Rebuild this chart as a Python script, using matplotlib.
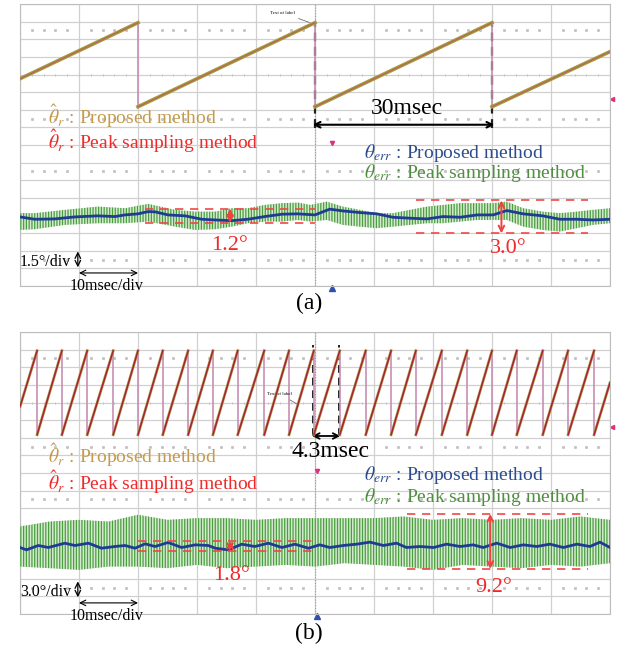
import numpy as np
import matplotlib
matplotlib.use("Agg")
import matplotlib.pyplot as plt

plt.rcParams['font.family'] = ['Liberation Serif', 'DejaVu Serif']
plt.rcParams['mathtext.fontset'] = 'stix'
plt.rcParams['hatch.linewidth'] = 0.9

# ---- values read off the two scope screens (time in msec, angles in deg) ----
# theta_r sawtooth: reset instants and the angle at the screen edges
peaks_a = [20.0, 50.0, 80.0]
theta_edges_a = [120, 236]
peaks_b = [2.9, 7.1, 11.4, 15.8, 20.0, 24.2, 28.5, 32.7, 36.9, 41.4, 45.6, 49.8,
           54.2, 58.6, 62.9, 67.1, 71.5, 75.8, 80.0, 84.2, 88.6, 92.9, 97.3]
theta_edges_b = [120, 223]

# (a) theta_err, proposed method (blue)
t_blue_a = [0.0, 2.5, 5.9, 9.3, 13.2, 16.1, 17.8, 20.0, 21.7, 22.9, 25.1, 28.0, 30.8,
            33.1, 35.9, 38.6, 41.5, 44.4, 47.1, 50.0, 52.5, 54.7, 57.6, 60.5, 63.2,
            66.1, 69.0, 71.7, 74.6, 77.5, 80.2, 82.5, 85.3, 88.6, 91.5, 94.4, 97.1, 100.0]
err_blue_a = [0.0, -0.2, -0.17, 0.0, 0.09, 0.03, 0.17, 0.26, 0.45, 0.43, 0.17, 0.09, -0.2,
              -0.26, -0.32, -0.2, 0.03, 0.23, 0.26, 0.17, 0.66, 0.51, 0.37, 0.26, -0.03,
              -0.11, -0.17, 0.03, -0.03, 0.17, 0.17, 0.54, 0.26, 0.09, -0.2, -0.2, -0.26, -0.2]
# (a) theta_err, peak sampling (green band, upper / lower edge)
t_green_a = [0.0, 2.5, 7.6, 13.2, 17.8, 21.7, 26.3, 29.7, 33.1, 35.9, 38.6, 41.5, 44.4,
             47.1, 49.2, 52.0, 54.7, 57.6, 60.5, 63.2, 66.1, 69.0, 71.7, 74.6, 77.5,
             80.2, 82.5, 85.3, 88.6, 91.5, 94.4, 97.1, 100.0]
green_hi_a = [0.32, 0.32, 0.6, 0.88, 0.74, 1.11, 0.6, 0.45, 0.45, 0.74, 0.74, 1.02, 1.17,
              1.22, 1.02, 1.3, 0.88, 0.6, 0.32, 0.32, 0.6, 0.88, 1.02, 1.17, 1.17,
              1.17, 1.3, 0.74, 0.45, 0.32, 0.45, 0.6, 0.74]
green_lo_a = [-1.11, -1.05, -0.68, -0.54, -0.54, -0.4, -0.83, -1.11, -1.05, -0.83, -0.54,
              -0.4, -0.4, -0.26, -0.4, -0.26, -0.68, -0.83, -0.96, -0.83, -0.68, -0.54,
              -0.54, -0.4, -0.26, -0.26, -0.26, -0.83, -1.11, -1.25, -0.96, -0.68, -0.54]

# (b) theta_err, proposed method (blue)
t_blue_b = [0.0, 1.1, 3.1, 4.8, 7.6, 9.3, 11.6, 13.8, 16.1, 17.8, 19.5, 21.2, 22.9, 25.1,
            27.4, 29.7, 31.9, 33.1, 35.3, 37.6, 39.8, 42.1, 44.4, 46.6, 48.9, 50.8, 52.5,
            54.8, 57.1, 59.3, 61.6, 63.8, 65.5, 67.8, 70.1, 72.3, 74.6, 76.8, 78.5, 80.8,
            83.1, 85.3, 87.6, 89.8, 92.1, 94.4, 96.6, 98.3, 100.0]
err_blue_b = [-0.11, -0.51, 0.23, -0.11, 0.62, 0.23, 0.62, -0.23, 0.06, 0.23, -0.23, 0.51,
              0.06, 0.74, -0.11, 0.34, 0.23, -0.23, -0.51, 0.45, 0.06, 0.62, -0.11, 0.45,
              -0.23, 0.34, -0.11, 0.23, 0.46, 0.8, 0.23, 0.63, -0.11, 0.06, -0.11, 0.46,
              0.06, 0.34, -0.11, 0.63, -0.11, 0.34, 0.06, 0.46, -0.11, 0.46, 0.06, 0.8, -0.11]
# (b) theta_err, peak sampling (green band)
t_green_b = [0, 5, 10, 15, 20, 25, 30, 35, 40, 45, 50, 55, 60, 65, 70, 75, 80, 85, 90, 95, 100]
green_hi_b = [3.46, 4.31, 4.6, 4.31, 5.46, 4.6, 4.89, 4.89, 4.6, 4.89, 4.89, 4.89, 4.89,
              5.17, 4.6, 4.89, 4.6, 4.89, 4.6, 5.17, 4.6]
green_lo_b = [-3.36, -3.63, -3.92, -3.36, -3.36, -3.63, -3.07, -3.63, -3.36, -3.07, -3.36,
              -2.78, -3.07, -3.36, -3.92, -3.07, -3.36, -3.63, -3.07, -3.36, -2.78]

# ripple marks: (t_start, t_end, upper, lower, arrow_t, label)
marks_a = [(21.2, 50.0, 0.7, -0.5, 35.6, '1.2°'), (67.2, 96.3, 1.4, -1.4, 81.6, '3.0°')]
marks_b = [(20.0, 50.5, 1.0, -0.7, 35.6, '1.8°'), (65.6, 96.3, 5.6, -3.75, 79.7, '9.2°')]

GOLD = '#c49a4c'
RED = '#f02a2a'
BLUE = '#2c4c8e'
GREEN = '#4f8f3f'

SAW_LO, SAW_HI = 10.17, 14.94


def saw_div(theta):
    return SAW_LO + np.asarray(theta, dtype=float) / 360.0 * (SAW_HI - SAW_LO)


def scope_grid(ax):
    ax.set_xlim(0, 100)
    ax.set_ylim(0, 16)
    ax.set_xticks(np.arange(0, 101, 10))
    ax.set_yticks(np.arange(0, 17, 1))
    ax.grid(color='#d0d0d0', lw=0.9)
    ax.tick_params(length=0, labelbottom=False, labelleft=False)
    for s in ax.spines.values():
        s.set_color('#bdbdbd')
    xs = [x for x in np.arange(2, 100, 2) if x % 10]
    for yd in [14.5, 9.5, 6.5, 1.5]:
        ax.plot(xs, [yd] * len(xs), ls='none', marker='s', ms=1.1, color='#c4c4c4')
    ax.axvline(50, color='#9a9a9a', ls=(0, (1, 1.5)), lw=0.8)
    ticks = np.arange(0, 100.1, 2)
    for yc in [12, 4]:
        ax.plot(ticks, [yc] * len(ticks), ls='none', marker='|', ms=2, mew=0.7,
                color='#c0c0c0')


def draw_saw(ax, peaks, edges, wide):
    ts = [0.0]
    th = [edges[0]]
    for p in peaks:
        ts += [p, np.nan, p]
        th += [360, np.nan, 0]
    ts.append(100.0)
    th.append(edges[1])
    y = saw_div(th)
    ax.vlines(peaks, SAW_LO, SAW_HI, color='#c890b4', lw=1.2, zorder=3)
    if wide:
        ax.plot(ts, y, color='#a39c3a', lw=2.6, zorder=4)
        ax.plot(ts, y, color='#c0506a', lw=0.6, zorder=5)
    else:
        ax.plot(ts, y, color='#b0a44a', lw=2.0, zorder=4)
        ax.plot(ts, y, color='#a8203c', lw=1.1, zorder=5)


def draw_err(ax, zero, per_div, tb, eb, tg, hi, lo, marks):
    gy = lambda v: zero + np.asarray(v, dtype=float) / per_div
    ax.fill_between(tg, gy(lo), gy(hi), facecolor='#d6ebd0', edgecolor='#4a9e40',
                    hatch='||||||', linewidth=0, zorder=3)
    ax.plot(tb, gy(eb), color='#1f3c94', lw=2.0, zorder=4)
    for t0, t1, up, dn, ta, lab in marks:
        ax.hlines([gy(up), gy(dn)], t0, t1, colors='#f04848', lw=1.2,
                  linestyles=(0, (5, 4)), zorder=5)
        ax.annotate('', xy=(ta, gy(up)), xytext=(ta, gy(dn)),
                    arrowprops=dict(arrowstyle='<->', color='#f04040', lw=1.4,
                                    shrinkA=0, shrinkB=0), zorder=6)


def legends(ax, y_gold, y_red, y_blue, y_green):
    ax.text(4.7, y_gold, r'$\hat{\theta}_r$ : Proposed method', color=GOLD,
            fontsize=14, va='center', zorder=7)
    ax.text(4.7, y_red, r'$\hat{\theta}_r$ : Peak sampling method', color=RED,
            fontsize=14, va='center', zorder=7)
    ax.text(58.3, y_blue, r'$\theta_{err}$ : Proposed method', color=BLUE,
            fontsize=14, va='center', zorder=7)
    ax.text(58.3, y_green, r'$\theta_{err}$ : Peak sampling method', color=GREEN,
            fontsize=14, va='center', zorder=7)


def scale_marks(ax, vlabel, y_v, y_h):
    ax.text(4.3, y_v, vlabel, fontsize=11.5, ha='center', va='center', zorder=7)
    ax.annotate('', xy=(9.8, y_v + 0.6), xytext=(9.8, y_v - 0.3),
                arrowprops=dict(arrowstyle='<->', color='black', lw=0.9,
                                shrinkA=0, shrinkB=0))
    ax.annotate('', xy=(10, y_h), xytext=(20, y_h),
                arrowprops=dict(arrowstyle='<->', color='black', lw=0.8,
                                shrinkA=0, shrinkB=0))
    ax.text(14.6, y_h - 0.72, '10msec/div', fontsize=11.5, ha='center', va='center',
            clip_on=False, zorder=7)


fig = plt.figure(figsize=(6.18, 6.52), dpi=100)
ax_a = fig.add_axes([20 / 618, 1 - 286 / 652, 590 / 618, 282 / 652])
ax_b = fig.add_axes([20 / 618, 1 - 614 / 652, 590 / 618, 282 / 652])

# ---------------- (a) ----------------
scope_grid(ax_a)
ax_a.vlines([50, 80], 8.95, 14.94, colors='#222222', lw=1.6, linestyles=(0, (4, 2.5)), zorder=2)
draw_saw(ax_a, peaks_a, theta_edges_a, wide=True)
draw_err(ax_a, 3.92, 1.5, t_blue_a, err_blue_a, t_green_a, green_hi_a, green_lo_a, marks_a)
ax_a.annotate('', xy=(49.6, 9.15), xytext=(80.4, 9.15),
              arrowprops=dict(arrowstyle='<->', color='black', lw=1.5, shrinkA=0, shrinkB=0))
ax_a.text(65.6, 10.05, '30msec', fontsize=17, ha='center', va='center', zorder=7)
legends(ax_a, 9.65, 8.2, 7.56, 6.42)
ax_a.text(35.6, 2.27, marks_a[0][5], color=RED, fontsize=16, ha='center', va='center')
ax_a.text(82.7, 2.1, marks_a[1][5], color=RED, fontsize=16, ha='center', va='center')
scale_marks(ax_a, '1.5°/div', 1.36, 0.74)
ax_a.annotate('Text of label', xy=(49.5, 14.9), xytext=(44.5, 15.5), fontsize=3.5,
              ha='center', va='center', arrowprops=dict(arrowstyle='-', color='#555', lw=0.5))
ax_a.plot([52.9], [8.1], marker='v', ms=3, color='#e0307a', clip_on=False)
ax_a.plot([52.9], [-0.1], marker='^', ms=4, color='#3050b0', clip_on=False)
ax_a.plot([100.3], [10.6], marker='<', ms=3, color='#e0307a', clip_on=False)

# ---------------- (b) ----------------
scope_grid(ax_b)
ax_b.vlines([49.7, 54.1], 10.1, 15.28, colors='#222222', lw=1.4, linestyles=(0, (4, 2.5)), zorder=2)
draw_saw(ax_b, peaks_b, theta_edges_b, wide=False)
draw_err(ax_b, 3.81, 3.0, t_blue_b, err_blue_b, t_green_b, green_hi_b, green_lo_b, marks_b)
ax_b.annotate('', xy=(49.5, 10.1), xytext=(54.3, 10.1),
              arrowprops=dict(arrowstyle='<->', color='black', lw=1.3, shrinkA=0, shrinkB=0))
ax_b.text(52.7, 9.2, '4.3msec', fontsize=17, ha='center', va='center', zorder=7)
legends(ax_b, 9.02, 7.5, 7.9, 6.65)
ax_b.text(35.9, 2.16, marks_b[0][5], color=RED, fontsize=16, ha='center', va='center')
ax_b.text(80.3, 1.48, marks_b[1][5], color=RED, fontsize=16, ha='center', va='center')
scale_marks(ax_b, '3.0°/div', 1.25, 0.63)
ax_b.annotate('Text of label', xy=(47.5, 11.8), xytext=(44.0, 12.5), fontsize=3.5,
              ha='center', va='center', arrowprops=dict(arrowstyle='-', color='#555', lw=0.5))
ax_b.plot([50.3], [8.1], marker='v', ms=3, color='#e0307a', clip_on=False)
ax_b.plot([50.3], [-0.1], marker='^', ms=4, color='#3050b0', clip_on=False)
ax_b.plot([100.3], [10.6], marker='<', ms=3, color='#e0307a', clip_on=False)

fig.text(309 / 618, 1 - 303 / 652, '(a)', fontsize=17, ha='center', va='center')
fig.text(309 / 618, 1 - 633 / 652, '(b)', fontsize=17, ha='center', va='center')

fig.savefig('out.png', dpi=100)
